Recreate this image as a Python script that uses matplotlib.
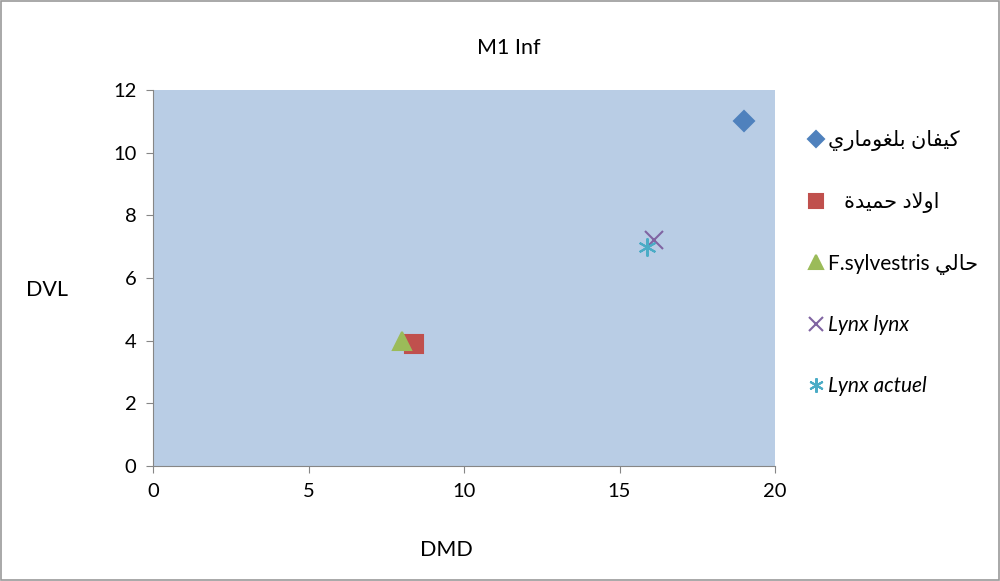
import matplotlib.pyplot as plt
from matplotlib.patches import Rectangle

# Arabic labels written with presentation forms in visual order
# (matplotlib does no shaping/bidi by itself)
lbl_kifan = "\uFEF1\uFEAD\uFE8E\uFEE3\uFEEE\uFED0\uFEE0\uFE91 \uFEE5\uFE8E\uFED4\uFEF4\uFEDB"
lbl_oulad = "   \uFE93\uFEAA\uFEF4\uFEE4\uFEA3 \uFEA9\uFEFB\uFEED\uFE8D"
lbl_halli = "F.sylvestris \uFEF2\uFEDF\uFE8E\uFEA3"

series_names = [lbl_kifan, lbl_oulad, lbl_halli, "Lynx lynx", "Lynx actuel"]
dmd = [19, 8.4, 8.0, 16.1, 15.9]
dvl = [11, 3.9, 4.0, 7.2, 7.0]

colors = ['#4F81BD', '#C0504D', '#9BBB59', '#8064A2', '#4BACC6']
markers = ['D', 's', '^', 'x', (6, 2, 0)]
sizes = [10, 13, 13, 13, 13]

plt.rcParams['font.family'] = ['Lato', 'DejaVu Sans']

fig = plt.figure(figsize=(10, 5.81), dpi=100)
ax = fig.add_axes([0.153, 0.198, 0.622, 0.647])
ax.set_facecolor('#B9CDE5')

for i in range(len(series_names)):
    ax.plot(dmd[i], dvl[i], linestyle='none', marker=markers[i], color=colors[i],
            markersize=sizes[i], markeredgewidth=1.5, label=series_names[i])

ax.set_xlim(0, 20)
ax.set_ylim(0, 12)
ax.set_xticks([0, 5, 10, 15, 20])
ax.set_yticks([0, 2, 4, 6, 8, 10, 12])
for s in ['top', 'right']:
    ax.spines[s].set_visible(False)
for s in ['left', 'bottom']:
    ax.spines[s].set_color('#868686')
ax.tick_params(direction='out', length=5, color='#868686', labelsize=14.5, pad=7)

fig.text(0.509, 0.918, 'M1 Inf', fontsize=15.5, ha='center', va='center')
fig.text(0.446, 0.053, 'DMD', fontsize=15.5, ha='center', va='center')
fig.text(0.047, 0.5, 'DVL', fontsize=15.5, ha='center', va='center')

leg = ax.legend(loc='upper left', bbox_to_anchor=(1.037, 0.915), frameon=False,
                fontsize=15, handletextpad=0.15, labelspacing=1.95, handlelength=0.9,
                borderaxespad=0, markerscale=0.8)
for t in leg.get_texts()[3:]:
    t.set_style('italic')

fig.patches.append(Rectangle((0.001, 0.001), 0.998, 0.998, transform=fig.transFigure,
                             fill=False, edgecolor='#9a9a9a', linewidth=1.2))

fig.savefig('out.png', dpi=100)
